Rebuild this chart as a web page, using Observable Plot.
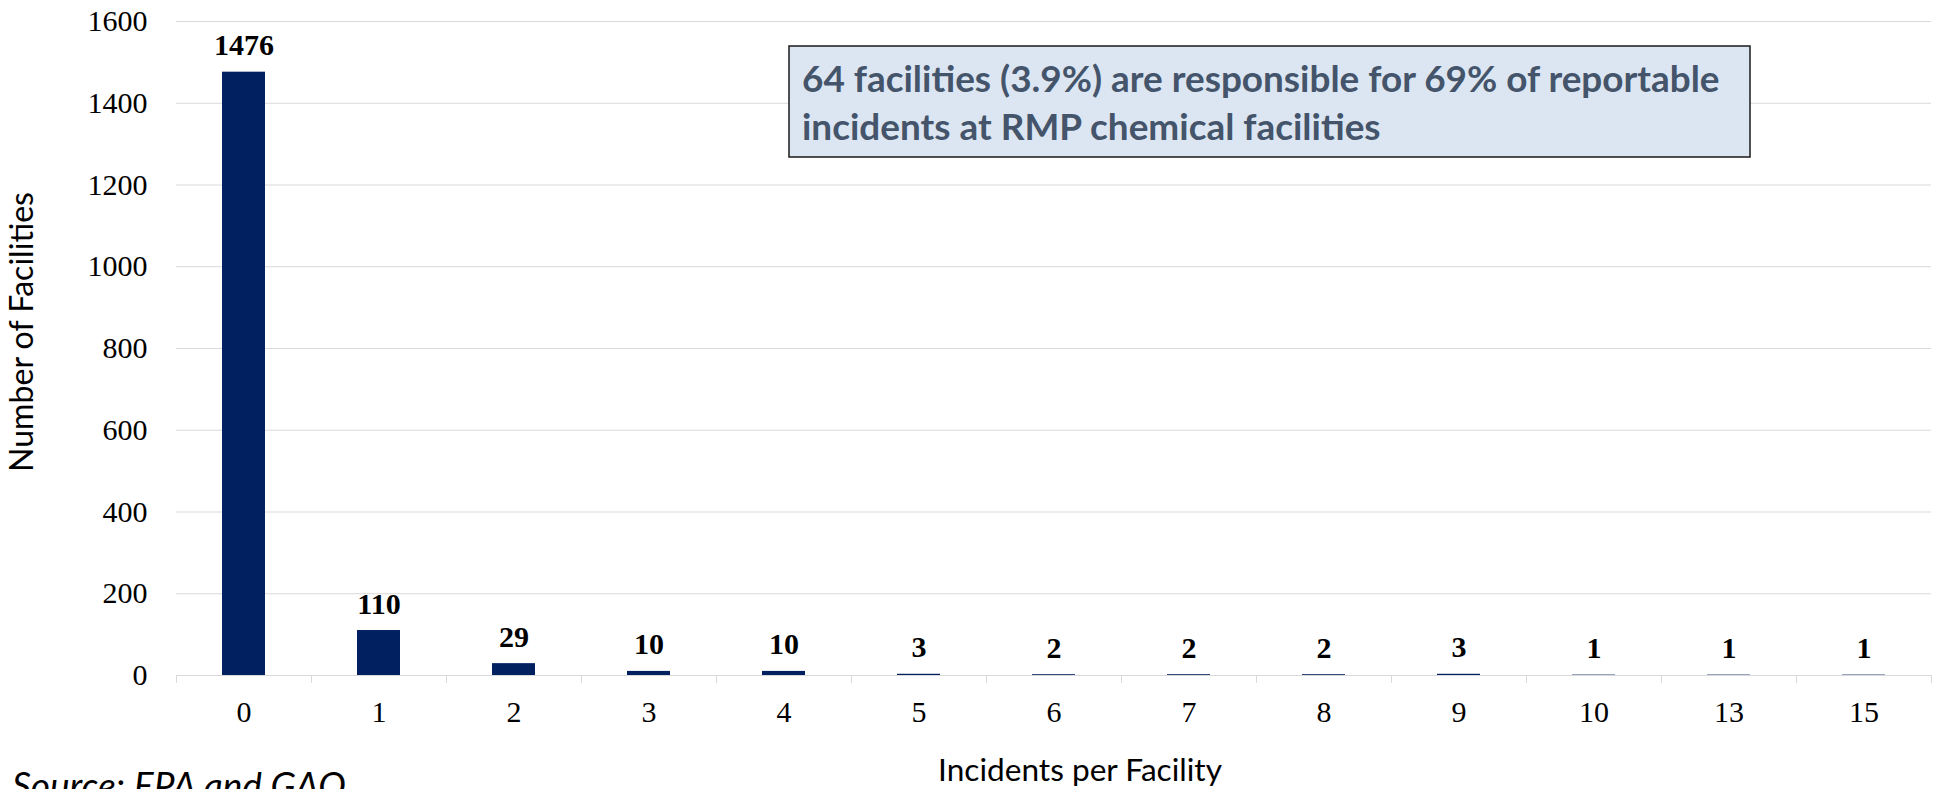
<!DOCTYPE html>
<html>
<head>
<meta charset="utf-8">
<script src="https://cdn.jsdelivr.net/npm/d3@7"></script>
<script src="https://cdn.jsdelivr.net/npm/@observablehq/plot@0.6"></script>
<style>
  html, body { margin: 0; padding: 0; background: #ffffff; overflow: hidden; }
  #chart { width: 1937px; height: 789px; }
</style>
</head>
<body>
<div id="chart"></div>
<script>
// ---- data ----
const incidentsPerFacility = ["0", "1", "2", "3", "4", "5", "6", "7", "8", "9", "10", "13", "15"];
const numberOfFacilities = [1476, 110, 29, 10, 10, 3, 2, 2, 2, 3, 1, 1, 1];
const yTickValues = [0, 200, 400, 600, 800, 1000, 1200, 1400, 1600];
const yTitle = "Number of Facilities";
const xTitle = "Incidents per Facility";
const sourceNote = "Source: EPA and GAO";
const calloutLines = [
  "64 facilities (3.9%) are responsible for 69% of reportable",
  "incidents at RMP chemical facilities"
];

const rows = incidentsPerFacility.map((c, i) => ({c, n: numberOfFacilities[i]}));

// ---- layout ----
const W = 1937, H = 789;
const mL = 176, mR = 6, mT = 21, mB = 114;
const pad = 0.684;
const step = (W - mL - mR) / incidentsPerFacility.length;
const gridColor = "#d9d9d9";
const barColor = "#002060";

const chart = Plot.plot({
  width: W,
  height: H,
  marginLeft: mL,
  marginRight: mR,
  marginTop: mT,
  marginBottom: mB,
  style: {background: "transparent", fontFamily: "'Liberation Serif', 'Times New Roman', serif", color: "#000"},
  x: {domain: incidentsPerFacility, paddingInner: pad, paddingOuter: pad / 2},
  y: {domain: [0, 1600]},
  marks: [
    Plot.gridY(yTickValues, {stroke: gridColor, strokeOpacity: 1, strokeWidth: 1}),
    Plot.ruleX(incidentsPerFacility, {x: d => d, y1: 0, y2: 0, dx: -step / 2, insetBottom: -8, stroke: gridColor, strokeWidth: 1}),
    Plot.ruleX(incidentsPerFacility.slice(-1), {x: d => d, y1: 0, y2: 0, dx: step / 2, insetBottom: -8, stroke: gridColor, strokeWidth: 1}),
    Plot.barY(rows, {x: "c", y: "n", fill: barColor}),
    Plot.text(rows, {x: "c", y: "n", text: d => String(d.n), lineAnchor: "bottom", dy: -17, fontWeight: "bold", fontSize: 30, fill: "#000"}),
    Plot.axisY(yTickValues, {tickSize: 0, tickPadding: 29, fontSize: 30, label: null, tickFormat: d => String(d)}),
    Plot.axisX({tickSize: 0, tickPadding: 25, fontSize: 30, label: null})
  ]
});

document.getElementById("chart").appendChild(chart);

// ---- extra text & callout appended into the same SVG ----
const svg = d3.select(chart);

function addText(str, o) {
  const t = svg.append("text")
    .text(str)
    .attr("font-family", o.family)
    .attr("font-weight", o.weight || "normal")
    .attr("font-style", o.style || "normal")
    .attr("fill", o.fill || "#000")
    .attr("text-anchor", o.anchor || "start")
    .attr("font-size", 100);
  const w = t.node().getComputedTextLength();
  const fs = o.fontSize != null ? o.fontSize : 100 * o.targetWidth / w;
  t.attr("font-size", fs);
  const y = typeof o.y === "function" ? o.y(fs) : o.y;
  t.attr("transform", o.rotate ? `translate(${o.x},${y}) rotate(-90)` : `translate(${o.x},${y})`);
  return fs;
}

const sans = "Lato, 'Open Sans', sans-serif";

// callout box
svg.append("rect")
  .attr("x", 789).attr("y", 46)
  .attr("width", 961).attr("height", 111)
  .attr("fill", "#dce6f2")
  .attr("stroke", "#1a1a1a")
  .attr("stroke-width", 1.5);

const calloutSize = addText(calloutLines[0], {x: 802, y: 92, family: sans, weight: "bold", fill: "#44546a", targetWidth: 918});
addText(calloutLines[1], {x: 802, y: 140, family: sans, weight: "bold", fill: "#44546a", fontSize: calloutSize});

// axis titles
addText(yTitle, {x: 33, y: 332, family: sans, anchor: "middle", rotate: true, targetWidth: 280});
addText(xTitle, {x: 1080, y: 781, family: sans, anchor: "middle", targetWidth: 284});

// source note
addText(sourceNote, {x: 12, y: fs => 772 + 0.72 * fs, family: sans, style: "italic", targetWidth: 334});
</script>
</body>
</html>
